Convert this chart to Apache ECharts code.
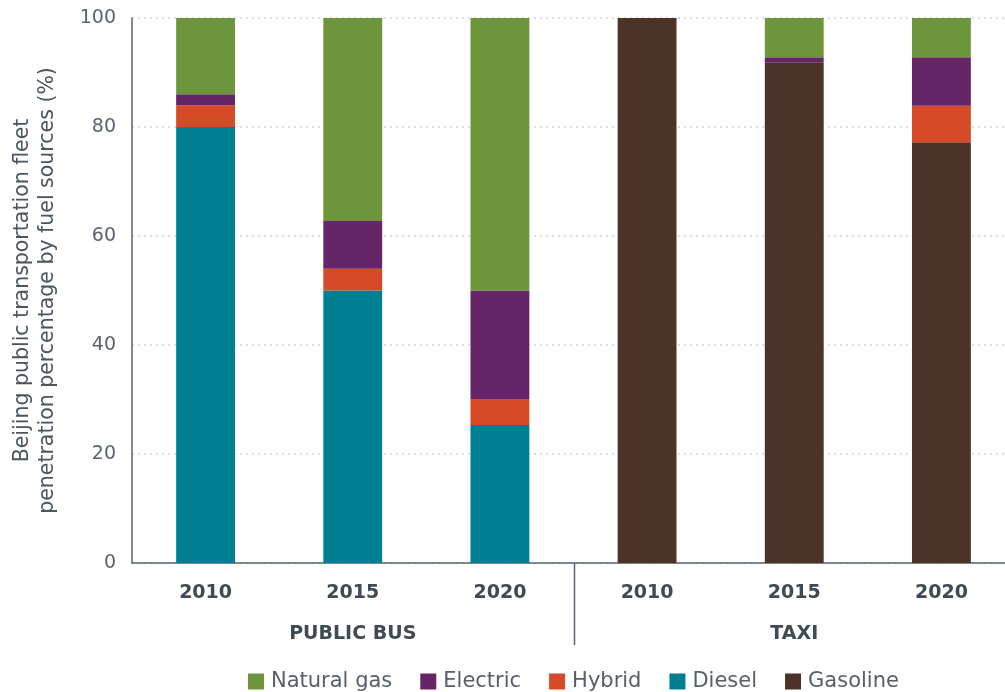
<!DOCTYPE html>
<html>
<head>
<meta charset="utf-8">
<script src="https://cdn.jsdelivr.net/npm/echarts@6/dist/echarts.min.js"></script>
<style>
html,body{margin:0;padding:0;background:#fff;}
#chart{width:1005px;height:692px;}
</style>
</head>
<body>
<div id="chart"></div>
<script>
// ---- data ----
const categories = ['2010', '2015', '2020', '2010', '2015', '2020'];
const groups = ['PUBLIC BUS', 'TAXI'];
const yTicks = { min: 0, max: 100, interval: 20 };
const diesel     = [80,   50,    25.3, null, null, null];
const gasoline   = [null, null,  null, 100,  91.9, 77.2];
const hybrid     = [4,    4,     4.8,  null, null, 6.7];
const electric   = [2,    8.75,  19.9, null, 0.9,  8.9];
const naturalGas = [14,   37.25, 50,   null, 7.2,  7.2];
const legendOrder = ['Natural gas', 'Electric', 'Hybrid', 'Diesel', 'Gasoline'];

const colors = {
  'Natural gas': '#6d963c',
  'Electric': '#652567',
  'Hybrid': '#d64a27',
  'Diesel': '#007f93',
  'Gasoline': '#4d3227'
};
const FONT = '"DejaVu Sans", sans-serif';
const axisColor = '#58636d';

function bar(name, data) {
  return {
    name: name, type: 'bar', stack: 'total', data: data,
    barWidth: '40%', xAxisIndex: 0,
    itemStyle: { color: colors[name] },
    emphasis: { disabled: true }
  };
}

const chart = echarts.init(document.getElementById('chart'), null, { renderer: 'canvas' });
chart.setOption({
  animation: false,
  textStyle: { fontFamily: FONT },
  grid: { left: 132, width: 883, top: 18, bottom: 129, outerBoundsMode: 'none' },
  legend: {
    data: legendOrder,
    bottom: 0, left: 248, padding: 0,
    itemWidth: 16, itemHeight: 16, itemGap: 28,
    icon: 'rect',
    textStyle: { fontFamily: FONT, fontSize: 21, color: '#55606a', padding: [0, 0, 0, 2] }
  },
  xAxis: [
    {
      type: 'category', data: categories, position: 'bottom',
      axisLine: { lineStyle: { color: axisColor, width: 1.5 } },
      axisTick: { show: false },
      axisLabel: { fontFamily: FONT, fontSize: 19, fontWeight: 'bold', color: '#3f4a54', margin: 21 }
    },
    {
      type: 'category', data: groups, position: 'bottom',
      axisLine: { show: false },
      axisTick: { show: false },
      axisLabel: { fontFamily: FONT, fontSize: 19, fontWeight: 'bold', color: '#3f4a54', margin: 62 }
    }
  ],
  yAxis: {
    type: 'value', min: yTicks.min, max: yTicks.max, interval: yTicks.interval,
    name: 'Beijing public transportation fleet\npenetration percentage by fuel sources (%)',
    nameLocation: 'middle', nameRotate: 90, nameGap: 72,
    nameTextStyle: { fontFamily: FONT, fontSize: 20.5, color: '#4a5560', lineHeight: 25, align: 'center' },
    axisLine: { show: true, lineStyle: { color: axisColor, width: 1.5 } },
    axisTick: { show: false },
    axisLabel: { fontFamily: FONT, fontSize: 19, color: '#5a646e', margin: 16 },
    splitLine: { show: true, lineStyle: { color: '#d2d2d2', width: 1.5, type: [2, 4] } }
  },
  series: [
    bar('Diesel', diesel),
    bar('Gasoline', gasoline),
    bar('Hybrid', hybrid),
    bar('Electric', electric),
    bar('Natural gas', naturalGas)
  ]
});

// group separator between the two category groups, placed via the axis scales
const xa = chart.convertToPixel({ xAxisIndex: 0 }, 2);
const xb = chart.convertToPixel({ xAxisIndex: 0 }, 3);
const sepX = Math.round((xa + xb) / 2) + 0.5;
const baseY = chart.convertToPixel({ yAxisIndex: 0 }, 0);
chart.setOption({
  graphic: [{
    type: 'line', silent: true,
    shape: { x1: sepX, y1: baseY, x2: sepX, y2: baseY + 82 },
    style: { stroke: axisColor, lineWidth: 1.5 }
  }]
});
</script>
</body>
</html>
